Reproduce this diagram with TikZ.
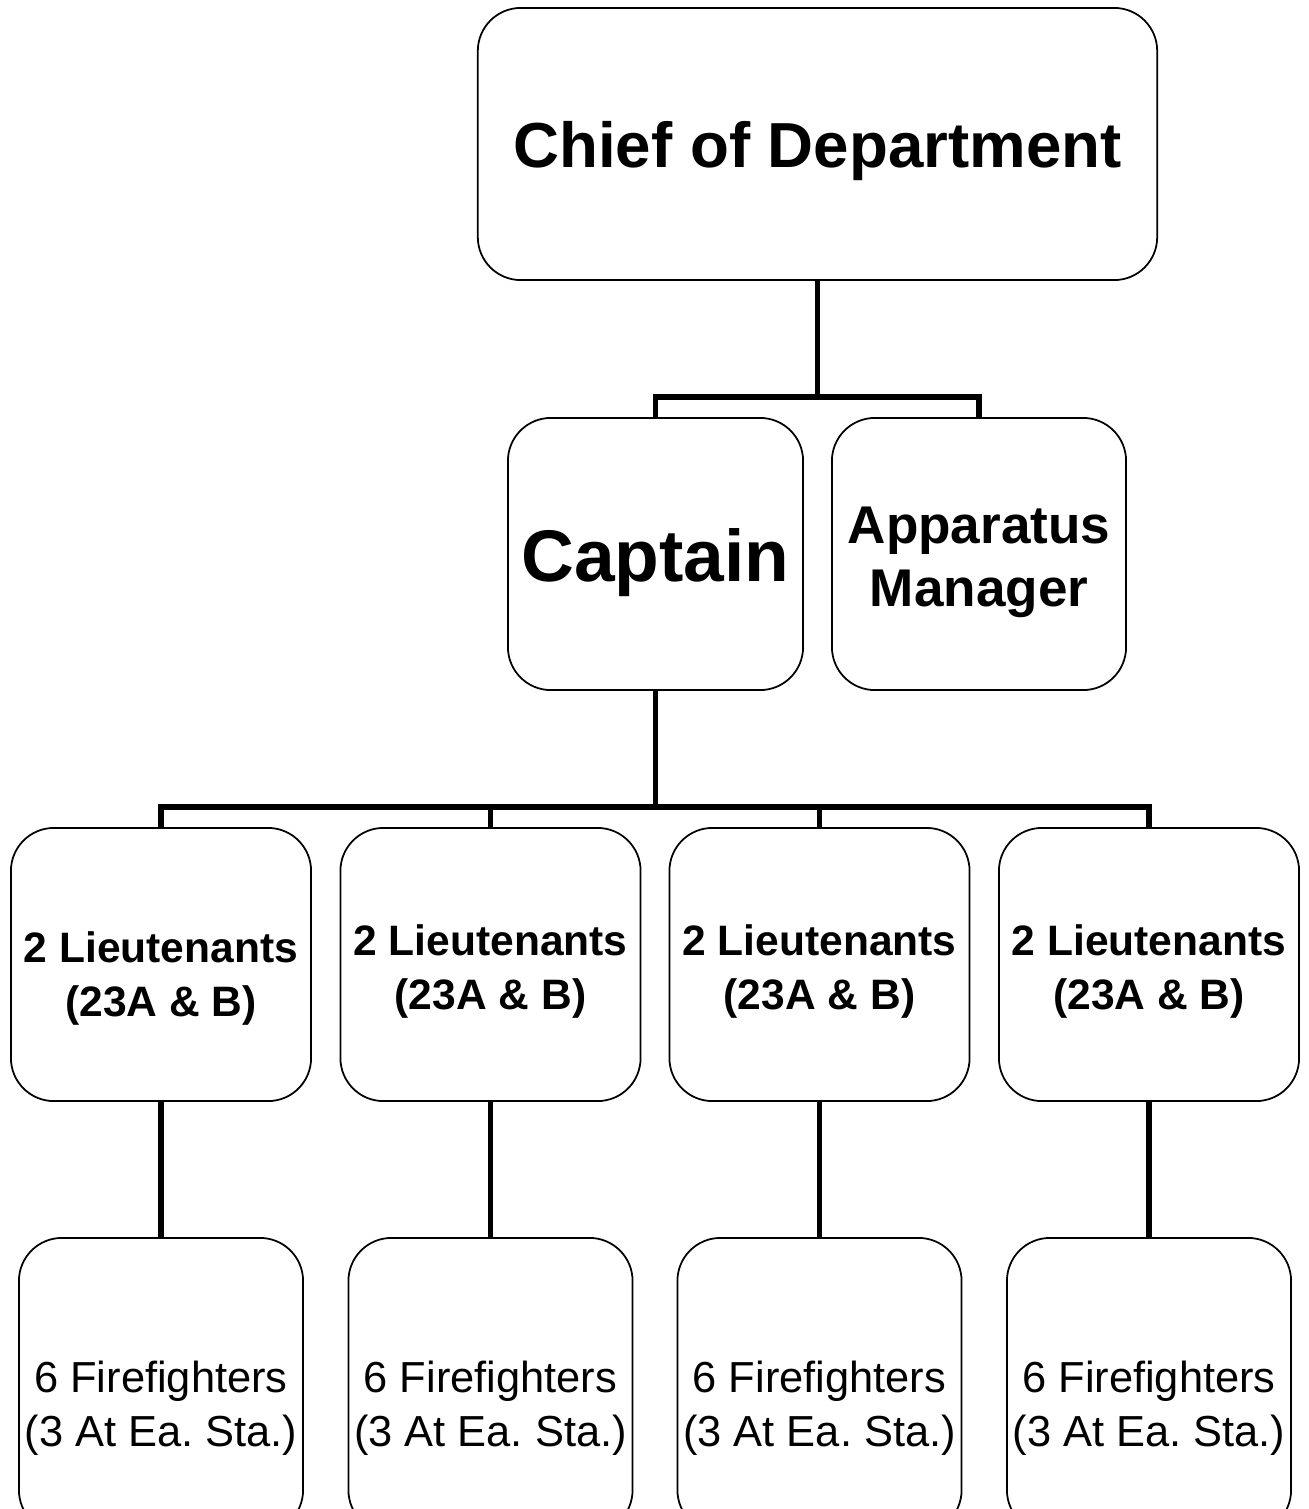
\documentclass[tikz,border=0pt]{standalone}
\usepackage{fontspec}
\setmainfont{Liberation Sans}
\frenchspacing
\usetikzlibrary{positioning}

\begin{document}
\begin{tikzpicture}[x=0.01cm, y=-0.01cm,
  box/.style={draw, line width=0.5pt, rounded corners=0.43cm, inner sep=0pt},
  txt/.style={align=center, inner sep=0pt},
  link/.style={line width=1.45pt, line join=miter}]
\useasboundingbox (0,0) rectangle (1308,1509);
\node[box, minimum width=6.79cm, minimum height=2.72cm,
  label={[txt, name=chieft, yshift=-0.07cm, font=\bfseries\fontsize{18.1}{22}\selectfont]center:Chief of Department}] (chief) at (817.5,144) {};
\node[box, minimum width=2.95cm, minimum height=2.72cm,
  label={[txt, name=captt, yshift=-0.09cm, font=\bfseries\fontsize{20.8}{25}\selectfont]center:Captain}] (capt) at (655.5,554) {};
\node[box, minimum width=2.94cm, minimum height=2.72cm,
  label={[txt, name=appt, yshift=-0.08cm, font=\bfseries\fontsize{15.1}{17.9}\selectfont]center:Apparatus\\Manager}] (app) at (979,554) {};
\foreach \i/\x/\s in {1/161/0.14,2/490.5/0.07,3/819.5/0.07,4/1149/0.07}{
  \node[box, minimum width=3cm, minimum height=2.73cm,
    label={[txt, name=lt\i t, yshift=-\s cm, font=\bfseries\fontsize{12.1}{15.6}\selectfont]center:2 Lieutenants\\(23A \& B)}] (lt\i) at (\x,964.5) {};
  \node[box, minimum width=2.84cm, minimum height=2.95cm,
    label={[txt, name=ff\i t, yshift=-0.23cm, font=\fontsize{12.35}{15.4}\selectfont]center:6 Firefighters\\(3 At Ea. Sta.)}] (ff\i) at (\x,1385.5) {};
  \draw[link] (lt\i.south) -- (ff\i.north);
}
% chief to captain and apparatus manager
\coordinate (bus1) at (chief.south |- 0,397);
\draw[link] (chief.south) -- (bus1);
\draw[link] (capt.north) |- (bus1) -| (app.north);
% captain to lieutenants
\coordinate (bus2) at (capt.south |- 0,807);
\draw[link] (capt.south) -- (bus2);
\draw[link] (lt1.north) |- (bus2) -| (lt4.north);
\draw[link] (lt2.north) -- (lt2.north |- bus2);
\draw[link] (lt3.north) -- (lt3.north |- bus2);
\end{tikzpicture}
\end{document}
